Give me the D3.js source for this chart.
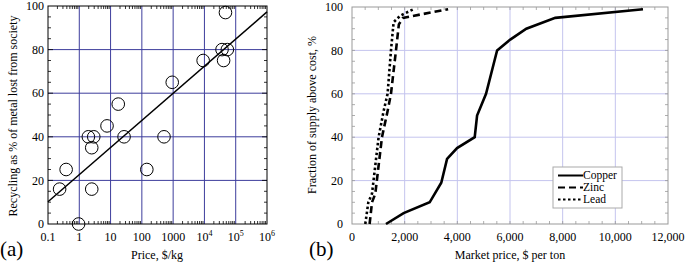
<!DOCTYPE html>
<html>
<head>
<meta charset="utf-8">
<script src="https://cdn.jsdelivr.net/npm/d3@7"></script>
<style>
  body { margin: 0; background: #fff; }
</style>
</head>
<body>
<div id="chart"></div>
<script>
// (a) recycling vs price
const priceKg = [0.235, 0.38, 0.95, 1.95, 2.9, 2.5, 2.5, 7.7, 17.6, 27, 144, 511, 935, 9100, 36500, 41000, 54000, 47000]
const recycled = [16, 25, 0, 40, 40, 35, 16, 45, 55, 40, 25, 40, 65, 75, 80, 75, 80, 97]
const fitPrice = [0.1, 1e6]
const fitRecycled = [10.2, 97.3]
const decadeTicks = [0.1, 1, 10, 100, 1000, 1e4, 1e5, 1e6]
const decadeLabels = ['0.1', '1', '10', '100', '1000', '10^4', '10^5', '10^6']

// (b) supply curves
const copperPrice = [1290, 1960, 2950, 3390, 3610, 3990, 4660, 4750, 5090, 5510, 6010, 6620, 7720, 11050]
const copperFrac = [0, 5, 10, 19, 30, 35, 40, 50, 60, 80, 85, 90, 95, 99]
const zincPrice = [668, 760, 885, 1138, 1351, 1480, 1670, 1780, 1935, 3650]
const zincFrac = [0, 10, 14, 40, 52, 60, 80, 92, 95, 99]
const leadPrice = [505, 620, 760, 1010, 1200, 1351, 1480, 1580, 1833, 2338]
const leadFrac = [0, 10, 14, 40, 52, 60, 80, 93, 96, 99]
const metals = ['Copper', 'Zinc', 'Lead']
const priceTicks = [0, 2000, 4000, 6000, 8000, 10000, 12000]
const fracTicks = [0, 20, 40, 60, 80, 100]

const svg = d3.select('#chart').append('svg').attr('width', 685).attr('height', 263)
    .attr('font-family', 'Liberation Serif')

// ---------- panel a ----------
const xa = d3.scaleLog().domain([0.1, 1e6]).range([48, 267])
const ya = d3.scaleLinear().domain([0, 100]).range([224, 6])
const ga = svg.append('g')

// grid
ga.selectAll('.gx').data(decadeTicks.slice(1, -1)).enter().append('line')
    .attr('x1', d => xa(d)).attr('x2', d => xa(d)).attr('y1', ya(0)).attr('y2', ya(100))
    .attr('stroke', '#3d3d9c').attr('stroke-width', 1)
ga.selectAll('.gy').data(fracTicks.slice(1, -1)).enter().append('line')
    .attr('x1', xa(0.1)).attr('x2', xa(1e6)).attr('y1', d => ya(d)).attr('y2', d => ya(d))
    .attr('stroke', '#3d3d9c').attr('stroke-width', 1)

// minor ticks
const minorLog = []
for (let e = -1; e < 6; e++) for (let m = 2; m < 10; m++) minorLog.push(m * Math.pow(10, e))
const tickA = ga.append('g').attr('stroke', '#000').attr('stroke-width', 0.8)
minorLog.forEach(v => {
    tickA.append('line').attr('x1', xa(v)).attr('x2', xa(v)).attr('y1', ya(0)).attr('y2', ya(0) - 3)
    tickA.append('line').attr('x1', xa(v)).attr('x2', xa(v)).attr('y1', ya(100)).attr('y2', ya(100) + 3)
})
d3.range(5, 100, 5).forEach(v => {
    const len = v % 20 === 0 ? 5 : 3
    tickA.append('line').attr('x1', xa(0.1)).attr('x2', xa(0.1) + len).attr('y1', ya(v)).attr('y2', ya(v))
    tickA.append('line').attr('x1', xa(1e6)).attr('x2', xa(1e6) - len).attr('y1', ya(v)).attr('y2', ya(v))
})

ga.append('rect').attr('x', xa(0.1)).attr('y', ya(100))
    .attr('width', xa(1e6) - xa(0.1)).attr('height', ya(0) - ya(100))
    .attr('fill', 'none').attr('stroke', '#000').attr('stroke-width', 1)

// fit line
ga.append('line')
    .attr('x1', xa(fitPrice[0])).attr('y1', ya(fitRecycled[0]))
    .attr('x2', xa(fitPrice[1])).attr('y2', ya(fitRecycled[1]))
    .attr('stroke', '#000').attr('stroke-width', 1.5)

// points
ga.selectAll('circle').data(priceKg).enter().append('circle')
    .attr('cx', d => xa(d)).attr('cy', (d, i) => ya(recycled[i]))
    .attr('r', 6.3).attr('fill', 'none').attr('stroke', '#000').attr('stroke-width', 1)

// tick labels
ga.selectAll('.yl').data(fracTicks).enter().append('text')
    .attr('x', 44).attr('y', d => ya(d)).attr('dy', '0.35em')
    .attr('text-anchor', 'end').attr('font-size', 12).text(d => d)
decadeTicks.forEach((d, i) => {
    const t = ga.append('text').attr('x', xa(d)).attr('y', 241)
        .attr('text-anchor', 'middle').attr('font-size', 12)
    const lab = decadeLabels[i]
    if (lab.includes('^')) {
        const [b, p] = lab.split('^')
        t.append('tspan').text(b)
        t.append('tspan').attr('dy', -5).attr('font-size', 8).text(p)
    } else t.text(lab)
})
ga.append('text').attr('x', 157).attr('y', 259).attr('text-anchor', 'middle')
    .attr('font-size', 12).text('Price, $/kg')
ga.append('text').attr('transform', 'translate(17,116) rotate(-90)')
    .attr('text-anchor', 'middle').attr('font-size', 12)
    .text('Recycling as % of metal lost from society')
ga.append('text').attr('x', 0).attr('y', 256).attr('font-size', 21).text('(a)')

// ---------- panel b ----------
const xb = d3.scaleLinear().domain([0, 12000]).range([352, 668])
const yb = d3.scaleLinear().domain([0, 100]).range([224, 7])
const gb = svg.append('g')

gb.selectAll('.gx').data(priceTicks.slice(1, -1)).enter().append('line')
    .attr('x1', d => xb(d)).attr('x2', d => xb(d)).attr('y1', yb(0)).attr('y2', yb(100))
    .attr('stroke', '#c4c4ee').attr('stroke-width', 1)
gb.selectAll('.gy').data(fracTicks.slice(1, -1)).enter().append('line')
    .attr('x1', xb(0)).attr('x2', xb(12000)).attr('y1', d => yb(d)).attr('y2', d => yb(d))
    .attr('stroke', '#c4c4ee').attr('stroke-width', 1)

const tickB = gb.append('g').attr('stroke', '#999').attr('stroke-width', 0.8)
d3.range(500, 12000, 500).forEach(v => {
    tickB.append('line').attr('x1', xb(v)).attr('x2', xb(v)).attr('y1', yb(0)).attr('y2', yb(0) - 3)
    tickB.append('line').attr('x1', xb(v)).attr('x2', xb(v)).attr('y1', yb(100)).attr('y2', yb(100) + 3)
})
d3.range(5, 100, 5).forEach(v => {
    tickB.append('line').attr('x1', xb(0)).attr('x2', xb(0) + 3).attr('y1', yb(v)).attr('y2', yb(v))
    tickB.append('line').attr('x1', xb(12000)).attr('x2', xb(12000) - 3).attr('y1', yb(v)).attr('y2', yb(v))
})
gb.append('rect').attr('x', xb(0)).attr('y', yb(100))
    .attr('width', xb(12000) - xb(0)).attr('height', yb(0) - yb(100))
    .attr('fill', 'none').attr('stroke', '#999').attr('stroke-width', 1)

const series = [
    { name: 'Copper', xs: copperPrice, ys: copperFrac, dash: null },
    { name: 'Zinc', xs: zincPrice, ys: zincFrac, dash: '7,4' },
    { name: 'Lead', xs: leadPrice, ys: leadFrac, dash: '2.5,2.5' }
]
const line = d3.line().x(d => xb(d[0])).y(d => yb(d[1]))
series.forEach(s => {
    gb.append('path')
        .attr('d', line(s.xs.map((x, i) => [x, s.ys[i]])))
        .attr('fill', 'none').attr('stroke', '#000').attr('stroke-width', 2.6)
        .attr('stroke-dasharray', s.dash)
})

// legend
const lg = gb.append('g')
lg.append('rect').attr('x', 553).attr('y', 167).attr('width', 69).attr('height', 41)
    .attr('fill', '#fff').attr('stroke', '#aaa').attr('stroke-width', 1)
series.forEach((s, i) => {
    const y = 175.5 + i * 12
    lg.append('line').attr('x1', 558).attr('x2', 583).attr('y1', y).attr('y2', y)
        .attr('stroke', '#000').attr('stroke-width', 2).attr('stroke-dasharray', s.dash)
    lg.append('text').attr('x', 583).attr('y', y).attr('dy', '0.32em')
        .attr('font-size', 11.5).text(metals[i])
})

gb.selectAll('.yl').data(fracTicks).enter().append('text')
    .attr('x', 343).attr('y', d => yb(d)).attr('dy', '0.35em')
    .attr('text-anchor', 'end').attr('font-size', 12).text(d => d)
gb.selectAll('.xl').data(priceTicks).enter().append('text')
    .attr('x', d => xb(d)).attr('y', 241).attr('text-anchor', 'middle')
    .attr('font-size', 12).text(d => d3.format(',')(d))
gb.append('text').attr('x', 510).attr('y', 259).attr('text-anchor', 'middle')
    .attr('font-size', 12).text('Market price, $ per ton')
gb.append('text').attr('transform', 'translate(316,115) rotate(-90)')
    .attr('text-anchor', 'middle').attr('font-size', 12)
    .text('Fraction of supply above cost, %')
gb.append('text').attr('x', 309).attr('y', 256).attr('font-size', 21).text('(b)')
</script>
</body>
</html>
